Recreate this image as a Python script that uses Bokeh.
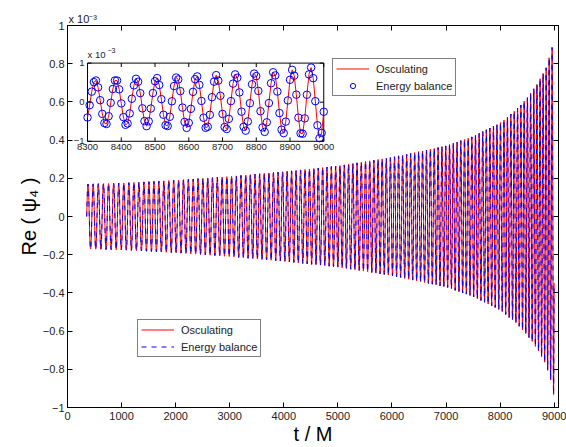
import numpy as np
from bokeh.plotting import figure
from bokeh.models import (Range1d, FixedTicker, LinearAxis, Legend, LegendItem,
                          Title, CustomJSTickFormatter)
from bokeh.embed import file_html
from bokeh.resources import INLINE
from bokeh.core.properties import value

# ---------------- data (Re(psi_4) in units of 1e-3) ----------------
t_first = 355.0
t_last = 9000.0
# amplitude envelope
env_t = [355, 1000, 2000, 3000, 4000, 5000, 6000, 7000, 7500, 8000, 8300, 8500, 8700, 8850, 8950, 9000]
env_amp = [0.17, 0.175, 0.19, 0.21, 0.235, 0.265, 0.31, 0.37, 0.42, 0.49, 0.56, 0.62, 0.70, 0.78, 0.87, 0.95]
per_t = [355, 3000, 6000, 8000, 8300, 8600, 9000]
per_val = [96, 88, 76, 65, 62, 59, 54]
first_inset_peak = 8323.0

x_ticks = [0, 1000, 2000, 3000, 4000, 5000, 6000, 7000, 8000, 9000]
y_ticks = [-1, -0.8, -0.6, -0.4, -0.2, 0, 0.2, 0.4, 0.6, 0.8, 1]
inset_x_ticks = [8300, 8400, 8500, 8600, 8700, 8800, 8900, 9000]
inset_y_ticks = [-1, 0, 1]

# ---------------- build waveform ----------------
tg = np.arange(t_first, t_last + 0.5, 0.5)
freq = 1.0 / np.interp(tg, per_t, per_val)
cyc = np.concatenate([[0.0], np.cumsum(0.5 * (freq[1:] + freq[:-1]) * 0.5)])
n_peak = np.interp(first_inset_peak, tg, cyc)
cyc *= (round(n_peak - 0.25) + 0.25) / n_peak


def wave(t):
    return np.interp(t, env_t, env_amp) * np.sin(2 * np.pi * np.interp(t, tg, cyc))


t_main = np.arange(t_first, t_last + 0.1, 2.0)
y_main = wave(t_main)
t_ins = np.arange(8300.0, 9000.1, 6.25)
y_ins = wave(t_ins)

# ---------------- figure ----------------
FONT = "Liberation Sans"
X0, X1 = 0, 9080
p = figure(width=566, height=447, output_backend="svg", toolbar_location=None,
           x_range=Range1d(X0, X1), y_range=Range1d(-1, 1),
           min_border_left=67, min_border_right=8, min_border_top=25, min_border_bottom=36,
           x_axis_label="t / M", y_axis_label="Re ( \u03c8\u2084 )")
p.xgrid.visible = False
p.ygrid.visible = False
p.outline_line_color = "black"
p.outline_line_width = 1
p.background_fill_color = "white"
p.border_fill_color = "white"

# multiplier of the main y axis, shown above the frame at its left
p.title = Title(text="x 10\u207b\u00b3", align="left", offset=1, standoff=1,
                text_font=FONT, text_font_size="11px", text_font_style="normal",
                text_color="#222222")

yfmt = CustomJSTickFormatter(code="""
if (Math.abs(tick) < 1e-9) return "0";
let s = (Math.abs(Math.abs(tick) - 1) < 1e-9) ? Math.round(tick).toString() : tick.toFixed(1);
return s.replace("-", "\u2212");
""")

for ax in (p.xaxis[0], p.yaxis[0]):
    ax.major_tick_in = 5
    ax.major_tick_out = 0
    ax.minor_tick_in = 0
    ax.minor_tick_out = 0
    ax.axis_line_color = "black"
    ax.major_tick_line_color = "black"
    ax.major_label_text_font = FONT
    ax.major_label_text_font_size = "11px"
    ax.major_label_text_color = "#222222"
    ax.axis_label_text_font = FONT
    ax.axis_label_text_font_size = "20px"
    ax.axis_label_text_font_style = "normal"
    ax.axis_label_text_color = "black"
    ax.axis_label_standoff = 0
p.xaxis[0].ticker = FixedTicker(ticks=x_ticks)
p.yaxis[0].ticker = FixedTicker(ticks=y_ticks)
p.yaxis[0].formatter = yfmt
p.xaxis[0].major_label_standoff = 4
p.yaxis[0].major_label_standoff = 3

top_ax = LinearAxis(ticker=FixedTicker(ticks=x_ticks), major_tick_in=5, major_tick_out=0,
                    minor_tick_in=0, minor_tick_out=0, major_label_text_font_size="0px",
                    major_label_standoff=0, axis_line_color="black")
right_ax = LinearAxis(ticker=FixedTicker(ticks=y_ticks), major_tick_in=5, major_tick_out=0,
                      minor_tick_in=0, minor_tick_out=0, major_label_text_font_size="0px",
                      major_label_standoff=0, axis_line_color="black")
p.add_layout(top_ax, "above")
p.add_layout(right_ax, "right")

# main curves
r_red = p.line(t_main, y_main, line_color="#ff0000", line_width=1)
r_blue = p.line(t_main, y_main, line_color="#0000ff", line_width=1, line_dash="5 5")

# ---------------- inset (sub-coordinates) ----------------
fx0, fx1, fy0, fy1 = 67.0, 557.5, 25.0, 411.0   # frame pixel box


def px_to_x(px):
    return X0 + (px - fx0) / (fx1 - fx0) * (X1 - X0)


def py_to_y(py):
    return 1 - (py - fy0) / (fy1 - fy0) * 2


sub = p.subplot(x_source=Range1d(8300, 9000), y_source=Range1d(-1, 1),
                x_target=Range1d(px_to_x(87), px_to_x(323)),
                y_target=Range1d(py_to_y(142), py_to_y(63)))

sub.quad(left=[8300], right=[9000], bottom=[-1], top=[1], fill_color="white",
         line_color="black", line_width=1)
r_ins_line = sub.line(t_ins, y_ins, line_color="#ff0000", line_width=1)
r_ins_circ = sub.scatter(t_ins, y_ins, marker="circle", size=7.5, fill_color=None,
                         line_color="#0000ff", line_width=1)

tkx = 12.0   # tick length in inset x units (~4 px)
tky = 0.1    # tick length in inset y units (~4 px)
ixt = np.array(inset_x_ticks, dtype=float)
iyt = np.array(inset_y_ticks, dtype=float)
sub.segment(x0=ixt, y0=np.full(len(ixt), -1.0), x1=ixt, y1=np.full(len(ixt), -1 + tky), line_color="black")
sub.segment(x0=ixt, y0=np.full(len(ixt), 1.0), x1=ixt, y1=np.full(len(ixt), 1 - tky), line_color="black")
sub.segment(x0=np.full(len(iyt), 8300.0), y0=iyt, x1=np.full(len(iyt), 8300 + tkx), y1=iyt, line_color="black")
sub.segment(x0=np.full(len(iyt), 9000.0), y0=iyt, x1=np.full(len(iyt), 9000 - tkx), y1=iyt, line_color="black")
sub.text(x=ixt, y=np.full(len(ixt), -1.0), text=[str(int(v)) for v in inset_x_ticks],
         text_font=value(FONT), text_font_size="9.5px", text_align="center",
         text_baseline="top", y_offset=3, text_color="#222222")
sub.text(x=np.full(len(iyt), 8300.0), y=iyt,
         text=[("\u2212" if v < 0 else "") + str(abs(int(v))) for v in inset_y_ticks],
         text_font=value(FONT), text_font_size="9.5px", text_align="right",
         text_baseline="middle", x_offset=-3, text_color="#222222")
sub.text(x=[8300.0], y=[1.0], text=["x 10"], text_font=value(FONT), text_font_size="9.5px",
         text_baseline="alphabetic", y_offset=-9, text_color="#222222")
sub.text(x=[8300.0], y=[1.0], text=["\u22123"], text_font=value(FONT), text_font_size="7px",
         text_baseline="alphabetic", y_offset=-13, x_offset=20, text_color="#222222")

# ---------------- legends ----------------
def make_legend(items, loc):
    lg = Legend(items=items, location=loc, orientation="vertical",
                label_text_font=FONT, label_text_font_size="11px", label_text_color="#222222",
                glyph_width=33, glyph_height=13, label_height=13, spacing=4, padding=3,
                margin=0, label_standoff=7, border_line_color="black", border_line_width=1,
                background_fill_color="white", background_fill_alpha=1.0)
    return lg


leg_main = make_legend([LegendItem(label="Osculating", renderers=[r_red]),
                        LegendItem(label="Energy balance", renderers=[r_blue])], (70, 50))
leg_ins = make_legend([LegendItem(label="Osculating", renderers=[r_ins_line]),
                       LegendItem(label="Energy balance", renderers=[r_ins_circ])], (265, 311))
p.add_layout(leg_main)
p.add_layout(leg_ins)

open("out.html", "w").write(file_html(p, INLINE))
